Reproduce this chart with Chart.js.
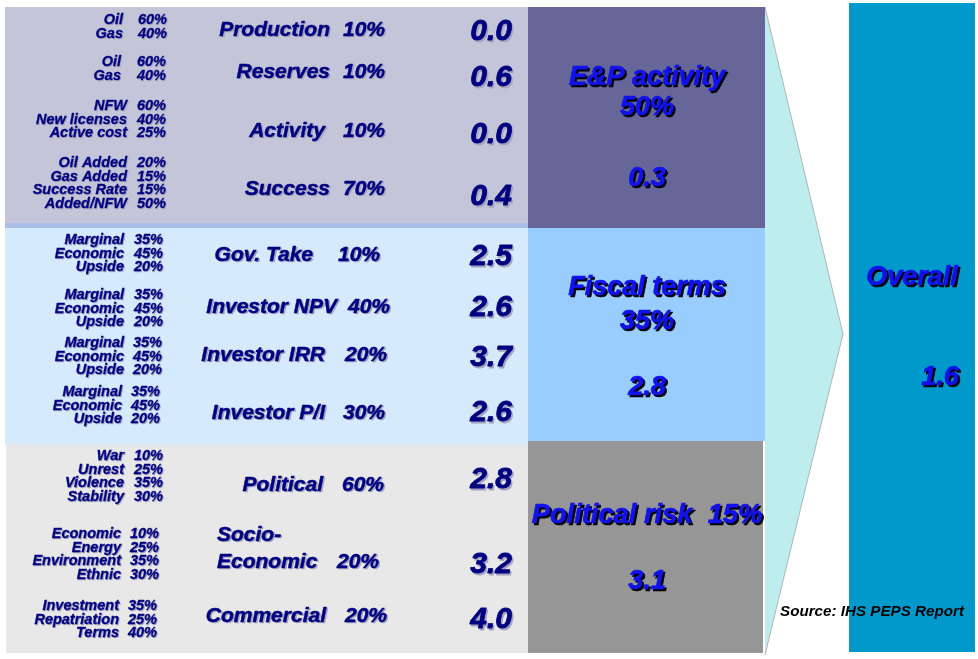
<!DOCTYPE html>
<html>
<head>
<meta charset="utf-8">
<script src="https://cdn.jsdelivr.net/npm/chart.js@4.4.0/dist/chart.umd.min.js"></script>
<style>
  html, body { margin: 0; padding: 0; background: #ffffff; }
  #wrap { width: 978px; height: 659px; }
</style>
</head>
<body>
<div id="wrap"><canvas id="chart" width="978" height="659"></canvas></div>
<script>
// Datos del cuadro de riesgo país
const groupNames = ['E&P activity', 'Fiscal terms', 'Political risk'];
const groupWeights = ['50%', '35%', '15%'];
const groupScores = [0.3, 2.8, 3.1];

const factorNames = ['Production', 'Reserves', 'Activity', 'Success',
  'Gov. Take', 'Investor NPV', 'Investor IRR', 'Investor P/I',
  'Political', 'Socio-\nEconomic', 'Commercial'];
const factorWeights = ['10%', '10%', '10%', '70%', '10%', '40%', '20%', '30%', '60%', '20%', '20%'];
const factorScores = [0.0, 0.6, 0.0, 0.4, 2.5, 2.6, 3.7, 2.6, 2.8, 3.2, 4.0];

const subNames = [
  ['Oil', 'Gas'],
  ['Oil', 'Gas'],
  ['NFW', 'New licenses', 'Active cost'],
  ['Oil Added', 'Gas Added', 'Success Rate', 'Added/NFW'],
  ['Marginal', 'Economic', 'Upside'],
  ['Marginal', 'Economic', 'Upside'],
  ['Marginal', 'Economic', 'Upside'],
  ['Marginal', 'Economic', 'Upside'],
  ['War', 'Unrest', 'Violence', 'Stability'],
  ['Economic', 'Energy', 'Environment', 'Ethnic'],
  ['Investment', 'Repatriation', 'Terms']
];
const subWeights = [
  ['60%', '40%'],
  ['60%', '40%'],
  ['60%', '40%', '25%'],
  ['20%', '15%', '15%', '50%'],
  ['35%', '45%', '20%'],
  ['35%', '45%', '20%'],
  ['35%', '45%', '20%'],
  ['35%', '45%', '20%'],
  ['10%', '25%', '35%', '30%'],
  ['10%', '25%', '35%', '30%'],
  ['35%', '25%', '40%']
];

const overallLabel = 'Overall';
const overallScore = 1.6;
const sourceNote = 'Source: IHS PEPS Report';

// Disposición (unidades de la escala, 1 = 1px)
const FONT = '"Liberation Sans", Arial, sans-serif';
const NAVY = '#000080';
const BLUE = '#1212EA';

const panels = [
  { x0: 5, x1: 528, y0: 7, y1: 223, color: '#C5C5D9' },
  { x0: 5, x1: 528, y0: 223, y1: 228, color: '#A9BEE7' },
  { x0: 5, x1: 528, y0: 228, y1: 444, color: '#D6EAFE' },
  { x0: 6, x1: 528, y0: 444, y1: 653, color: '#E8E8E8' },
  { x0: 528, x1: 765, y0: 7, y1: 228, color: '#666699' },
  { x0: 528, x1: 765, y0: 228, y1: 441, color: '#99CCFF' },
  { x0: 528, x1: 763, y0: 441, y1: 653, color: '#969696' },
  { x0: 849, x1: 975, y0: 3, y1: 652, color: '#0099CC' }
];
const chevron = [[765, 7], [843, 334], [765, 655]];

const scoreX = 512;
const scoreY = [32, 78, 135, 197, 257, 308, 358, 413, 480, 565, 620];
const rowY = [30, 72, 131, 189, 255, 307, 355, 413, 485, 535, 616];
const rowNameRight = [330, 330, 325, 330, 313, 337, 325, 325, 323, 217, 326];
const rowPctLeft = [343, 343, 343, 343, 338, 348, 345, 343, 342, 337, 345];

const subTop = [20, 62, 106, 163, 240, 295, 343, 392, 456, 534, 606];
const subGap = 13.6;
const subNameRight = [123, 121, 127, 127, 124, 124, 124, 122, 124, 121, 119];
const subPctRight = [167, 166, 166, 166, 163, 163, 162, 160, 163, 159, 157];

const groupX = 647;
const groupTitleY = [78, 288, 515];
const groupWeightY = [108, 322, null];
const groupScoreY = [179, 388, 582];

function txt(ctx, s, x, y, size, color, align, shadow, sdx, stroke) {
  ctx.save();
  ctx.font = 'italic bold ' + size + 'px ' + FONT;
  ctx.textAlign = align;
  ctx.textBaseline = 'middle';
  ctx.lineJoin = 'round';
  if (shadow) {
    ctx.fillStyle = shadow;
    ctx.fillText(s, x + sdx, y + sdx);
    if (stroke) {
      ctx.strokeStyle = shadow;
      ctx.lineWidth = stroke;
      ctx.strokeText(s, x + sdx, y + sdx);
    }
  }
  ctx.fillStyle = color;
  ctx.fillText(s, x, y);
  if (stroke) {
    ctx.strokeStyle = color;
    ctx.lineWidth = stroke;
    ctx.strokeText(s, x, y);
  }
  ctx.restore();
}

const diagramPlugin = {
  id: 'diagram',
  beforeDatasetsDraw(chart) {
    const ctx = chart.ctx;
    const sx = chart.scales.x, sy = chart.scales.y;
    const px = v => sx.getPixelForValue(v);
    const py = v => sy.getPixelForValue(v);

    // flecha
    ctx.save();
    ctx.beginPath();
    chevron.forEach((p, i) => i ? ctx.lineTo(px(p[0]), py(p[1])) : ctx.moveTo(px(p[0]), py(p[1])));
    ctx.closePath();
    ctx.fillStyle = '#BDEDEC';
    ctx.fill();
    ctx.beginPath();
    ctx.moveTo(px(chevron[0][0]), py(chevron[0][1]));
    ctx.lineTo(px(chevron[1][0]), py(chevron[1][1]));
    ctx.lineTo(px(chevron[2][0]), py(chevron[2][1]));
    ctx.strokeStyle = '#B4B4B4';
    ctx.lineWidth = 1;
    ctx.stroke();
    ctx.restore();

    panels.forEach(p => {
      ctx.fillStyle = p.color;
      ctx.fillRect(px(p.x0), py(p.y0), px(p.x1) - px(p.x0), py(p.y1) - py(p.y0));
    });
  },
  afterDatasetsDraw(chart) {
    const ctx = chart.ctx;
    const sx = chart.scales.x, sy = chart.scales.y;
    const px = v => sx.getPixelForValue(v);
    const py = v => sy.getPixelForValue(v);
    const navyShadow = '#A4A4BE';

    // subfactores
    subNames.forEach((names, b) => {
      names.forEach((n, k) => {
        const y = py(subTop[b] + k * subGap);
        txt(ctx, n, px(subNameRight[b]), y, 14.5, NAVY, 'right', navyShadow, 1, 0.3);
        txt(ctx, subWeights[b][k], px(subPctRight[b]), y, 14.5, NAVY, 'right', navyShadow, 1, 0.3);
      });
    });

    // factores
    factorNames.forEach((n, i) => {
      const lines = n.split('\n');
      if (lines.length > 1) {
        lines.forEach((l, k) => txt(ctx, l, px(rowNameRight[i]), py(rowY[i] + k * 27), 21, NAVY, 'left', navyShadow, 1.5, 0.5));
        txt(ctx, factorWeights[i], px(rowPctLeft[i]), py(rowY[i] + 27), 21, NAVY, 'left', navyShadow, 1.5, 0.5);
      } else {
        txt(ctx, n, px(rowNameRight[i]), py(rowY[i]), 21, NAVY, 'right', navyShadow, 1.5, 0.5);
        txt(ctx, factorWeights[i], px(rowPctLeft[i]), py(rowY[i]), 21, NAVY, 'left', navyShadow, 1.5, 0.5);
      }
    });

    // puntuaciones de factores
    const m0 = chart.getDatasetMeta(0);
    m0.data.forEach((pt, i) => {
      txt(ctx, factorScores[i].toFixed(1), pt.x, pt.y, 30, NAVY, 'right', navyShadow, 1.5, 0.8);
    });

    // grupos
    groupNames.forEach((g, i) => {
      if (groupWeightY[i] === null) {
        txt(ctx, g + '  ' + groupWeights[i], px(groupX), py(groupTitleY[i]), 27.3, BLUE, 'center', '#000000', 2, 0.7);
      } else {
        txt(ctx, g, px(groupX), py(groupTitleY[i]), 27, BLUE, 'center', '#000000', 2, 0.7);
        txt(ctx, groupWeights[i], px(groupX), py(groupWeightY[i]), 27, BLUE, 'center', '#000000', 2, 0.7);
      }
    });
    const m1 = chart.getDatasetMeta(1);
    m1.data.forEach((pt, i) => {
      txt(ctx, groupScores[i].toFixed(1), pt.x, pt.y, 27, BLUE, 'center', '#000000', 2, 0.7);
    });

    // total
    txt(ctx, overallLabel, px(912), py(278), 27, BLUE, 'center', '#000000', 2, 0.7);
    const m2 = chart.getDatasetMeta(2);
    m2.data.forEach(pt => {
      txt(ctx, overallScore.toFixed(1), pt.x, pt.y, 27, BLUE, 'center', '#000000', 2, 0.7);
    });

    txt(ctx, sourceNote, px(780), py(612), 15.2, '#000000', 'left', null, 0, 0);
  }
};

new Chart(document.getElementById('chart'), {
  type: 'scatter',
  data: {
    datasets: [
      { label: 'Factor score', data: factorScores.map((v, i) => ({ x: scoreX, y: scoreY[i] })), pointRadius: 0 },
      { label: 'Group score', data: groupScores.map((v, i) => ({ x: groupX, y: groupScoreY[i] })), pointRadius: 0 },
      { label: 'Overall', data: [{ x: 940, y: 378 }], pointRadius: 0 }
    ]
  },
  options: {
    responsive: false,
    devicePixelRatio: 1,
    animation: false,
    layout: { padding: 0 },
    plugins: { legend: { display: false }, tooltip: { enabled: false } },
    scales: {
      x: { type: 'linear', min: 0, max: 978, display: false },
      y: { type: 'linear', min: 0, max: 659, reverse: true, display: false }
    }
  },
  plugins: [diagramPlugin]
});
</script>
</body>
</html>
